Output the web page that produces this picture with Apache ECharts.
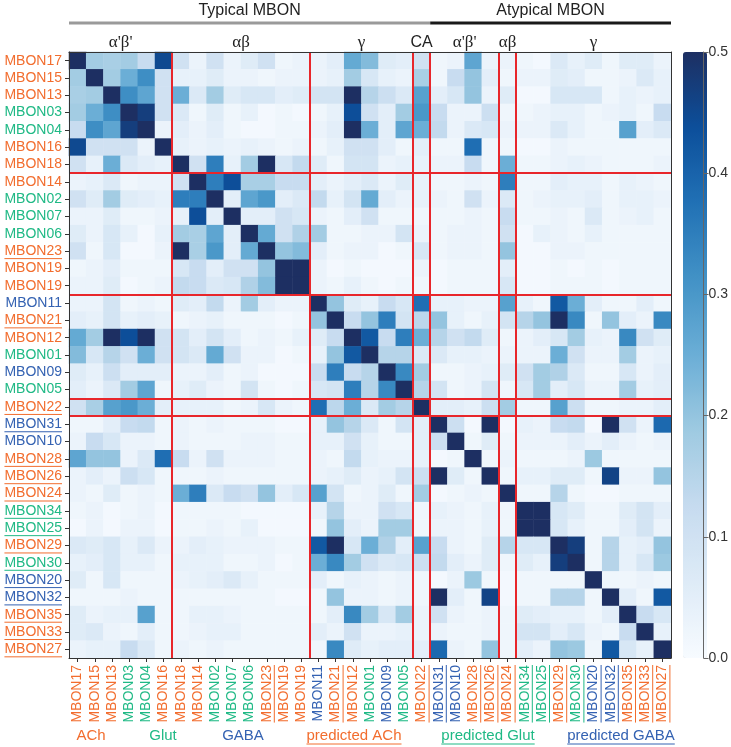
<!DOCTYPE html>
<html><head><meta charset="utf-8">
<script src="https://cdn.jsdelivr.net/npm/echarts@6/dist/echarts.min.js"></script>
<style>html,body{margin:0;padding:0;background:#fff}#c{width:731px;height:747px}</style>
</head><body><div id="c"></div>
<script>
const labels = ['MBON17','MBON15','MBON13','MBON03','MBON04','MBON16','MBON18','MBON14','MBON02','MBON07','MBON06','MBON23','MBON19','MBON19','MBON11','MBON21','MBON12','MBON01','MBON09','MBON05','MBON22','MBON31','MBON10','MBON28','MBON26','MBON24','MBON34','MBON25','MBON29','MBON30','MBON20','MBON32','MBON35','MBON33','MBON27'];
const transmitters = ['ACh','ACh','ACh','Glut','Glut','ACh','ACh','ACh','Glut','Glut','Glut','ACh','ACh','ACh','GABA','ACh','ACh','Glut','GABA','Glut','ACh','GABA','GABA','ACh','ACh','ACh','Glut','Glut','ACh','Glut','GABA','GABA','ACh','ACh','ACh'];
const predicted = [0,0,0,0,0,0,0,0,0,0,0,1,0,0,0,1,0,0,0,0,1,1,0,1,1,1,1,1,1,1,1,1,1,1,1];

const values = [
[.5,.18,.17,.18,.12,.45,.1,.03,.1,.03,.06,.1,.02,.03,.03,.05,.26,.22,.06,.05,.1,.02,.03,.27,.03,.03,.02,.01,.07,.04,.06,.02,.06,.06,.03],
[.18,.5,.18,.25,.32,.1,.04,.04,.06,.03,.03,.02,.03,.03,.03,.04,.18,.08,.04,.03,.17,.02,.12,.2,.05,.02,.03,.03,.06,.05,.02,.02,.03,.07,.04],
[.17,.18,.5,.32,.27,.1,.25,.07,.18,.06,.08,.08,.05,.06,.09,.09,.5,.15,.11,.07,.28,.05,.08,.2,.03,.06,.01,.01,.08,.08,.08,.02,.04,.03,.04],
[.18,.25,.32,.5,.47,.1,.07,.02,.06,.02,.04,.01,.02,.01,.02,.04,.44,.1,.05,.18,.3,.12,.03,.03,.11,.02,.02,.03,.04,.04,.02,.03,.04,.02,.12],
[.12,.32,.27,.47,.5,.03,.05,.03,.05,.02,.01,.01,.02,.02,.03,.05,.5,.25,.05,.27,.25,.13,.03,.07,.08,.03,.03,.03,.07,.04,.02,.02,.28,.05,.07],
[.45,.1,.1,.1,.03,.5,.04,.03,.04,.03,.04,.03,.02,.03,.02,.04,.1,.1,.05,.02,.05,.02,.02,.38,.02,.02,.01,.01,.03,.02,.02,.02,.02,.02,.02],
[.1,.04,.25,.07,.05,.04,.5,.1,.35,.04,.18,.5,.08,.13,.06,.02,.09,.09,.03,.04,.04,.03,.03,.12,.02,.25,.02,.02,.03,.04,.03,.02,.02,.02,.03],
[.03,.04,.07,.02,.03,.03,.1,.5,.35,.44,.17,.17,.12,.12,.05,.03,.05,.07,.03,.06,.04,.02,.02,.03,.02,.35,.02,.02,.05,.04,.04,.02,.04,.03,.02],
[.1,.06,.18,.06,.05,.04,.35,.35,.5,.05,.27,.3,.05,.07,.13,.04,.09,.26,.05,.03,.04,.03,.02,.1,.03,.07,.02,.03,.04,.04,.05,.02,.04,.04,.03],
[.03,.03,.06,.02,.02,.03,.04,.44,.05,.5,.05,.05,.1,.08,.03,.02,.05,.1,.02,.02,.02,.02,.02,.03,.02,.12,.02,.02,.03,.02,.07,.02,.03,.04,.02],
[.06,.03,.08,.04,.01,.04,.18,.17,.27,.05,.5,.26,.1,.16,.18,.02,.02,.03,.03,.09,.03,.02,.03,.03,.02,.1,.01,.04,.03,.02,.04,.02,.02,.02,.02],
[.1,.02,.08,.01,.01,.03,.5,.17,.3,.05,.26,.5,.2,.22,.05,.02,.03,.03,.01,.02,.08,.02,.03,.03,.02,.2,.01,.01,.03,.03,.02,.02,.02,.02,.02],
[.02,.03,.05,.02,.02,.02,.08,.12,.05,.1,.1,.2,.5,.5,.03,.01,.02,.01,.01,.01,.03,.01,.02,.02,.02,.05,.01,.01,.02,.01,.02,.01,.02,.02,.02],
[.03,.03,.06,.01,.02,.03,.13,.12,.07,.08,.16,.22,.5,.5,.03,.02,.04,.02,.01,.02,.02,.01,.02,.02,.02,.08,.01,.01,.02,.02,.02,.01,.02,.02,.02],
[.03,.03,.09,.02,.03,.02,.06,.05,.13,.03,.18,.05,.03,.03,.5,.2,.06,.04,.12,.08,.38,.04,.04,.03,.03,.28,.04,.02,.42,.25,.05,.02,.02,.05,.02],
[.05,.04,.09,.04,.05,.04,.02,.03,.04,.02,.02,.02,.01,.02,.2,.5,.12,.2,.35,.09,.14,.2,.04,.02,.04,.09,.15,.2,.5,.33,.02,.2,.05,.03,.33],
[.26,.18,.5,.44,.5,.1,.09,.05,.09,.05,.02,.03,.02,.04,.06,.12,.5,.42,.12,.35,.25,.15,.1,.13,.06,.02,.03,.05,.08,.18,.04,.03,.33,.1,.06],
[.22,.08,.15,.1,.25,.1,.09,.07,.26,.1,.03,.03,.01,.02,.04,.2,.42,.5,.15,.15,.07,.07,.04,.04,.03,.03,.03,.03,.25,.1,.03,.03,.18,.03,.04],
[.06,.04,.11,.05,.05,.05,.03,.03,.05,.02,.03,.01,.01,.01,.12,.35,.12,.15,.5,.33,.18,.02,.02,.03,.04,.06,.1,.18,.16,.07,.02,.02,.08,.03,.05],
[.05,.03,.07,.18,.27,.02,.04,.06,.03,.02,.09,.02,.01,.02,.08,.09,.35,.15,.33,.5,.15,.09,.02,.03,.09,.02,.08,.18,.05,.08,.03,.03,.18,.04,.05],
[.1,.17,.28,.3,.25,.05,.04,.04,.04,.02,.03,.08,.03,.02,.38,.14,.25,.07,.18,.15,.5,.05,.05,.04,.11,.18,.02,.02,.28,.11,.02,.02,.03,.03,.05],
[.02,.02,.05,.12,.13,.02,.03,.02,.03,.02,.02,.02,.01,.01,.04,.2,.15,.07,.02,.09,.05,.5,.11,.01,.5,.01,.04,.03,.12,.13,.01,.5,.1,.03,.39],
[.03,.12,.08,.03,.03,.02,.03,.02,.02,.02,.03,.03,.02,.02,.04,.04,.1,.04,.02,.02,.05,.11,.5,.02,.06,.02,.03,.03,.03,.05,.03,.05,.03,.02,.03],
[.27,.2,.2,.03,.07,.38,.12,.03,.1,.03,.03,.03,.02,.02,.03,.02,.13,.04,.03,.03,.04,.01,.02,.5,.02,.03,.02,.02,.02,.03,.19,.02,.02,.02,.02],
[.03,.05,.03,.11,.08,.02,.02,.02,.03,.02,.02,.02,.02,.02,.03,.04,.06,.03,.04,.09,.11,.5,.06,.02,.5,.02,.04,.04,.06,.06,.02,.46,.03,.03,.2],
[.03,.02,.06,.02,.03,.02,.25,.35,.07,.12,.1,.2,.05,.08,.28,.09,.02,.03,.06,.02,.18,.01,.02,.03,.02,.5,.02,.02,.15,.02,.01,.01,.02,.02,.02],
[.02,.03,.01,.02,.03,.01,.02,.02,.02,.02,.01,.01,.01,.01,.04,.15,.03,.03,.1,.08,.02,.04,.03,.02,.04,.02,.5,.5,.08,.06,.02,.02,.06,.09,.05],
[.01,.03,.01,.03,.03,.01,.02,.02,.03,.02,.04,.01,.01,.01,.02,.2,.05,.03,.18,.18,.02,.03,.03,.02,.04,.02,.5,.5,.08,.04,.02,.02,.05,.09,.03],
[.07,.06,.08,.04,.07,.03,.03,.05,.04,.03,.03,.03,.02,.02,.42,.5,.08,.25,.16,.05,.28,.12,.03,.02,.06,.15,.08,.08,.5,.47,.02,.15,.04,.05,.2],
[.04,.05,.08,.04,.04,.02,.04,.04,.04,.02,.02,.03,.01,.02,.25,.33,.18,.1,.07,.08,.11,.13,.05,.03,.06,.02,.06,.04,.47,.5,.02,.15,.04,.08,.19],
[.06,.02,.08,.02,.02,.02,.03,.04,.05,.07,.04,.02,.02,.02,.05,.02,.04,.03,.02,.03,.02,.01,.03,.19,.02,.01,.02,.02,.02,.02,.5,.02,.02,.03,.02],
[.02,.02,.02,.03,.02,.02,.02,.02,.02,.02,.02,.02,.01,.01,.02,.2,.03,.03,.02,.03,.02,.5,.05,.02,.46,.01,.02,.02,.15,.15,.02,.5,.05,.02,.42],
[.06,.03,.04,.04,.28,.02,.02,.04,.04,.03,.02,.02,.02,.02,.02,.05,.33,.18,.08,.18,.03,.1,.03,.02,.03,.02,.06,.05,.04,.04,.02,.05,.5,.12,.08],
[.06,.07,.03,.02,.05,.02,.02,.03,.04,.04,.02,.02,.02,.02,.05,.03,.1,.03,.03,.04,.03,.03,.02,.02,.03,.02,.09,.09,.05,.08,.03,.02,.12,.5,.04],
[.03,.04,.04,.12,.07,.02,.03,.02,.03,.02,.02,.02,.02,.02,.02,.33,.06,.04,.05,.05,.05,.39,.03,.02,.2,.02,.05,.03,.2,.19,.02,.42,.08,.04,.5]
];

const colBreakBefore = [6,14,20,21,25,26];
const rowBreakBefore = [7,14,20,21];
const classGroups = [['Typical MBON',0,20],['Atypical MBON',21,34]];
const lobeGroups = [["α'β'",0,5],['αβ',6,13],['γ',14,19],['CA',20,20],["α'β'",21,24],['αβ',25,25],['γ',26,34]];
const colorTicks = [0,0.1,0.2,0.3,0.4,0.5];
const legendItems = [['ACh','ACh',0],['Glut','Glut',0],['GABA','GABA',0],['predicted ACh','ACh',1],['predicted Glut','Glut',1],['predicted GABA','GABA',1]];

const ntColor = {ACh:'#F26D2E', Glut:'#1FB985', GABA:'#3462B2'};
const FONT = '"Liberation Sans", Arial, sans-serif';
const blues = ['#f7fbff','#deebf7','#c6dbef','#9ecae1','#6baed6','#4292c6','#2171b5','#0c4f9b','#1d2f62'];

const heatData = [];
values.forEach((row,i)=>row.forEach((v,j)=>heatData.push([j,i,v])));

const G = {left:69, top:52, width:602, height:606};
const CB = {left:683, top:52, width:24, height:606};
const labelMargin = 7;

const chart = echarts.init(document.getElementById('c'), null, {renderer:'canvas'});
const option = {
  animation:false,
  backgroundColor:'#fff',
  grid:[
    {left:G.left, top:G.top, width:G.width, height:G.height, containLabel:false},
    {left:CB.left, top:CB.top, width:CB.width, height:CB.height, containLabel:false}
  ],
  xAxis:[
    {type:'category', data:labels, gridIndex:0, position:'bottom',
     axisLine:{show:true, onZero:false, lineStyle:{color:'#333', width:1}},
     axisTick:{show:true, alignWithLabel:true, length:4, lineStyle:{color:'#333'}},
     axisLabel:{rotate:90, interval:0, margin:labelMargin, fontSize:14, fontFamily:FONT,
       color:(v,idx)=>ntColor[transmitters[idx]]},
     splitLine:{show:false}, z:10},
    {type:'category', data:[''], gridIndex:1, show:false},
    {type:'value', gridIndex:0, min:-0.5, max:labels.length-0.5, position:'top',
     axisLine:{show:true, onZero:false, lineStyle:{color:'#333', width:1}},
     axisTick:{show:false}, axisLabel:{show:false}, splitLine:{show:false}, z:10}
  ],
  yAxis:[
    {type:'category', data:labels, gridIndex:0, inverse:true, position:'left',
     axisLine:{show:true, onZero:false, lineStyle:{color:'#333', width:1}},
     axisTick:{show:true, alignWithLabel:true, length:4, lineStyle:{color:'#333'}},
     axisLabel:{interval:0, margin:labelMargin, fontSize:14, fontFamily:FONT,
       color:(v,idx)=>ntColor[transmitters[idx]]},
     splitLine:{show:false}, z:10},
    {type:'value', gridIndex:1, min:colorTicks[0], max:colorTicks[colorTicks.length-1], interval:0.1, position:'right',
     axisLine:{show:true, onZero:false, lineStyle:{color:'#666', width:1}},
     axisTick:{show:true, length:5, lineStyle:{color:'#666'}},
     axisLabel:{margin:5, fontSize:14, fontFamily:FONT, color:'#333', formatter:v=>v.toFixed(1)},
     splitLine:{show:false}, z:10},
    {type:'value', gridIndex:0, min:-0.5, max:labels.length-0.5, inverse:true, position:'right',
     axisLine:{show:true, onZero:false, lineStyle:{color:'#333', width:1}},
     axisTick:{show:false}, axisLabel:{show:false}, splitLine:{show:false}, z:10}
  ],
  visualMap:{
    type:'continuous', min:0, max:0.5, seriesIndex:0, calculable:false, hoverLink:false,
    inRange:{color:blues}, orient:'vertical', left:CB.left, top:CB.top, padding:0,
    itemWidth:CB.width, itemHeight:CB.height, text:null, showLabel:false
  },
  series:[
    {type:'heatmap', xAxisIndex:0, yAxisIndex:0, data:heatData, itemStyle:{borderWidth:0}, emphasis:{disabled:true}, silent:true, z:2},
    {type:'line', xAxisIndex:2, yAxisIndex:2, data:[], z:6, silent:true,
     markLine:{symbol:'none', silent:true, animation:false, label:{show:false},
       lineStyle:{color:'#E8262B', width:2, type:'solid'}, emphasis:{disabled:true},
       data:[...colBreakBefore.map(k=>({xAxis:k-0.5})), ...rowBreakBefore.map(k=>({yAxis:k-0.5}))]}}
  ]
};
chart.setOption(option);

// decorations computed from axes
const px = v => chart.convertToPixel({xAxisIndex:2}, v);
const py = v => chart.convertToPixel({yAxisIndex:2}, v);
const ctx = document.createElement('canvas').getContext('2d');
const graphics = [];
ctx.font = '14px ' + FONT;
const gridLeft = px(-0.5), gridBottom = py(labels.length-0.5);
labels.forEach((name,i)=>{
  if(!predicted[i]) return;
  const w = ctx.measureText(name).width;
  const col = ntColor[transmitters[i]];
  const yc = py(i);
  const xr = gridLeft - labelMargin;
  graphics.push({type:'line', silent:true, shape:{x1:xr-w, y1:yc+7.5, x2:xr, y2:yc+7.5}, style:{stroke:col, lineWidth:1}});
  const xc = px(i);
  const yt = gridBottom + labelMargin;
  graphics.push({type:'line', silent:true, shape:{x1:xc+7.5, y1:yt, x2:xc+7.5, y2:yt+w}, style:{stroke:col, lineWidth:1}});
});
// top headers
const classColors = ['#9a9a9a','#1a1a1a'];
classGroups.forEach((g,k)=>{
  const x1 = px(g[1]-0.5), x2 = px(g[2]+0.5);
  graphics.push({type:'line', silent:true, shape:{x1:x1, y1:23, x2:x2, y2:23}, style:{stroke:classColors[k], lineWidth:3}});
  graphics.push({type:'text', silent:true, x:(x1+x2)/2, y:11, style:{text:g[0], font:'16px '+FONT, fill:'#222', align:'center', verticalAlign:'middle'}});
});
lobeGroups.forEach(g=>{
  const xc = (px(g[1]-0.5)+px(g[2]+0.5))/2;
  const serif = g[0] !== 'CA';
  graphics.push({type:'text', silent:true, x:xc, y:43, style:{text:g[0], font:(serif?'17px "Liberation Serif", serif':'16px '+FONT), fill:'#222', align:'center', verticalAlign:'middle'}});
});
// bottom legend
const legendX = [91,163,243,354,488,621];
ctx.font = '15px ' + FONT;
legendItems.forEach((it,k)=>{
  const col = ntColor[it[1]];
  graphics.push({type:'text', silent:true, x:legendX[k], y:736, style:{text:it[0], font:'15px '+FONT, fill:col, align:'center', verticalAlign:'middle'}});
  if(it[2]){
    const w = ctx.measureText(it[0]).width;
    graphics.push({type:'line', silent:true, shape:{x1:legendX[k]-w/2, y1:744, x2:legendX[k]+w/2, y2:744}, style:{stroke:col, lineWidth:1}});
  }
});
chart.setOption({graphic:graphics});
</script>
</body></html>
